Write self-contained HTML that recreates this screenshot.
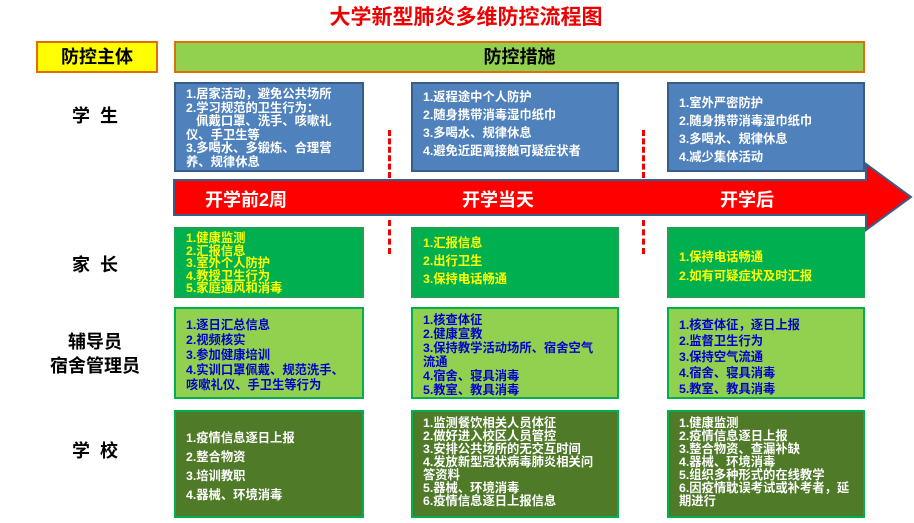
<!DOCTYPE html>
<html><head><meta charset="utf-8"><style>
body{margin:0;width:914px;height:523px;background:#fff;position:relative;overflow:hidden;font-family:"Liberation Sans","Noto Sans CJK SC",sans-serif;font-weight:bold}
.a{position:absolute;box-sizing:border-box}
.box{border:2px solid #41719C;font-size:12.3px;line-height:14px;padding:4px 10px}
.blue{background:#4F81BD;color:#fff;border-color:#385D8A}
.g1{background:#00B050;color:#FFFF00;border-color:#21A050}
.g2{background:#92D050;color:#0000CC;border-color:#00B050}
.g3{background:#4F7A28;color:#fff;border-color:#00B050}
.lab{font-size:18px;color:#000;text-align:center}
.dash{border-left:3px dashed #E00;width:0}
</style></head><body>
<div class="a" style="left:0;top:0;width:914px;text-align:center;color:#E00;font-size:21px;top:1px;padding-left:18px">大学新型肺炎多维防控流程图</div>
<div class="a" style="left:36px;top:41px;width:122px;height:32px;background:#FFFF00;border:2px solid #E46C0A;font-size:18px;text-align:center;line-height:28px">防控主体</div>
<div class="a" style="left:174px;top:41px;width:691px;height:32px;background:#92D050;border:2px solid #E46C0A;font-size:18px;text-align:center;line-height:28px">防控措施</div>

<div class="a lab" style="left:40px;top:102px;width:110px">学&nbsp;&nbsp;生</div>
<div class="a lab" style="left:40px;top:251px;width:110px">家&nbsp;&nbsp;长</div>
<div class="a lab" style="left:30px;top:330px;width:130px;line-height:24px">辅导员<br>宿舍管理员</div>
<div class="a lab" style="left:40px;top:437px;width:110px">学&nbsp;&nbsp;校</div>

<div class="a box blue" style="left:174px;top:82px;width:190px;height:90px;line-height:13.5px;padding:4px 8px 0 10px">1.居家活动，避免公共场所<br>2.学习规范的卫生行为：<br>&nbsp;&nbsp;&nbsp;佩戴口罩、洗手、咳嗽礼仪、手卫生等<br>3.多喝水、多锻炼、合理营养、规律休息</div>
<div class="a box blue" style="left:411px;top:82px;width:208px;height:90px;line-height:18px;padding-top:4px">1.返程途中个人防护<br>2.随身携带消毒湿巾纸巾<br>3.多喝水、规律休息<br>4.避免近距离接触可疑症状者</div>
<div class="a box blue" style="left:667px;top:82px;width:198px;height:90px;line-height:18px;padding-top:10px">1.室外严密防护<br>2.随身携带消毒湿巾纸巾<br>3.多喝水、规律休息<br>4.减少集体活动</div>

<svg class="a" style="left:170px;top:160px" width="744" height="80"><polygon points="4,20 696,20 696,4 741,37 696,70 696,55 4,55" fill="#F00" stroke="#385D8A" stroke-width="2"/></svg>
<div class="a" style="left:205px;top:186px;color:#fff;font-size:18px">开学前2周</div>
<div class="a" style="left:462px;top:186px;color:#fff;font-size:18px">开学当天</div>
<div class="a" style="left:720px;top:186px;color:#fff;font-size:18px">开学后</div>

<div class="a dash" style="left:388px;top:130px;height:48px"></div>
<div class="a dash" style="left:388px;top:220px;height:34px"></div>
<div class="a dash" style="left:642px;top:130px;height:48px"></div>
<div class="a dash" style="left:642px;top:220px;height:34px"></div>

<div class="a box g1" style="left:174px;top:227px;width:190px;height:71px;line-height:12.6px;padding-top:3px">1.健康监测<br>2.汇报信息<br>3.室外个人防护<br>4.教授卫生行为<br>5.家庭通风和消毒</div>
<div class="a box g1" style="left:411px;top:227px;width:208px;height:71px;line-height:18px;padding-top:5px">1.汇报信息<br>2.出行卫生<br>3.保持电话畅通</div>
<div class="a box g1" style="left:667px;top:227px;width:198px;height:71px;line-height:19px;padding-top:19px">1.保持电话畅通<br>2.如有可疑症状及时汇报</div>

<div class="a box g2" style="left:174px;top:307px;width:190px;height:92px;line-height:15px;padding-top:9px">1.逐日汇总信息<br>2.视频核实<br>3.参加健康培训<br>4.实训口罩佩戴、规范洗手、咳嗽礼仪、手卫生等行为</div>
<div class="a box g2" style="left:411px;top:307px;width:208px;height:92px;line-height:14px;padding:4px 18px 0 10px">1.核查体征<br>2.健康宣教<br>3.保持教学活动场所、宿舍空气流通<br>4.宿舍、寝具消毒<br>5.教室、教具消毒</div>
<div class="a box g2" style="left:667px;top:307px;width:198px;height:92px;line-height:16px;padding-top:8px">1.核查体征，逐日上报<br>2.监督卫生行为<br>3.保持空气流通<br>4.宿舍、寝具消毒<br>5.教室、教具消毒</div>

<div class="a box g3" style="left:174px;top:410px;width:190px;height:108px;line-height:19px;padding-top:17px">1.疫情信息逐日上报<br>2.整合物资<br>3.培训教职<br>4.器械、环境消毒</div>
<div class="a box g3" style="left:411px;top:410px;width:208px;height:108px;line-height:13px;padding:5px 14px 0 10px">1.监测餐饮相关人员体征<br>2.做好进入校区人员管控<br>3.安排公共场所的无交互时间<br>4.发放新型冠状病毒肺炎相关问答资料<br>5.器械、环境消毒<br>6.疫情信息逐日上报信息</div>
<div class="a box g3" style="left:667px;top:410px;width:198px;height:108px;line-height:13px;padding:5px 12px 0 10px">1.健康监测<br>2.疫情信息逐日上报<br>3.整合物资、查漏补缺<br>4.器械、环境消毒<br>5.组织多种形式的在线教学<br>6.因疫情耽误考试或补考者，延期进行</div>
</body></html>
